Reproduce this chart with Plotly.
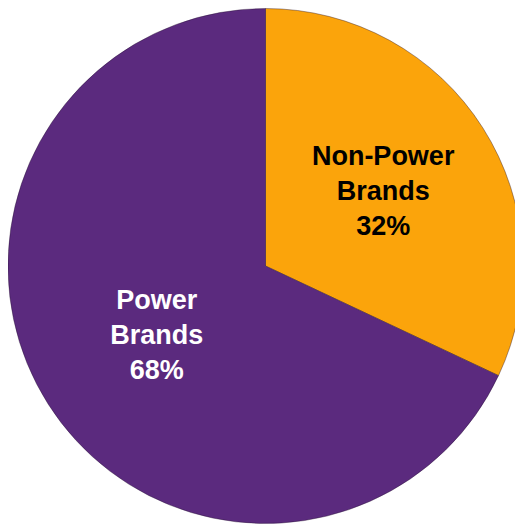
import plotly.graph_objects as go

labels = ["Non-Power<br>Brands", "Power<br>Brands"]
values = [32, 68]
colors = ["#FBA40B", "#5B2A7E"]
text_colors = ["#000000", "#FFFFFF"]

fig = go.Figure(go.Pie(
    labels=labels,
    values=values,
    sort=False,
    direction="clockwise",
    rotation=0,
    marker=dict(colors=colors, line=dict(color="rgba(40,20,50,0.5)", width=0.8)),
    texttemplate="<b>%{label}<br>%{percent:.0%}</b>",
    textposition="inside",
    insidetextorientation="horizontal",
    textfont=dict(family="Liberation Sans, Arial, sans-serif", size=27, color=text_colors),
    hoverinfo="label+percent",
    showlegend=False,
))

fig.update_layout(
    width=515, height=516,
    margin=dict(l=0, r=0, t=0, b=0),
    paper_bgcolor="white",
    plot_bgcolor="white",
)

fig.write_html("out.html")
